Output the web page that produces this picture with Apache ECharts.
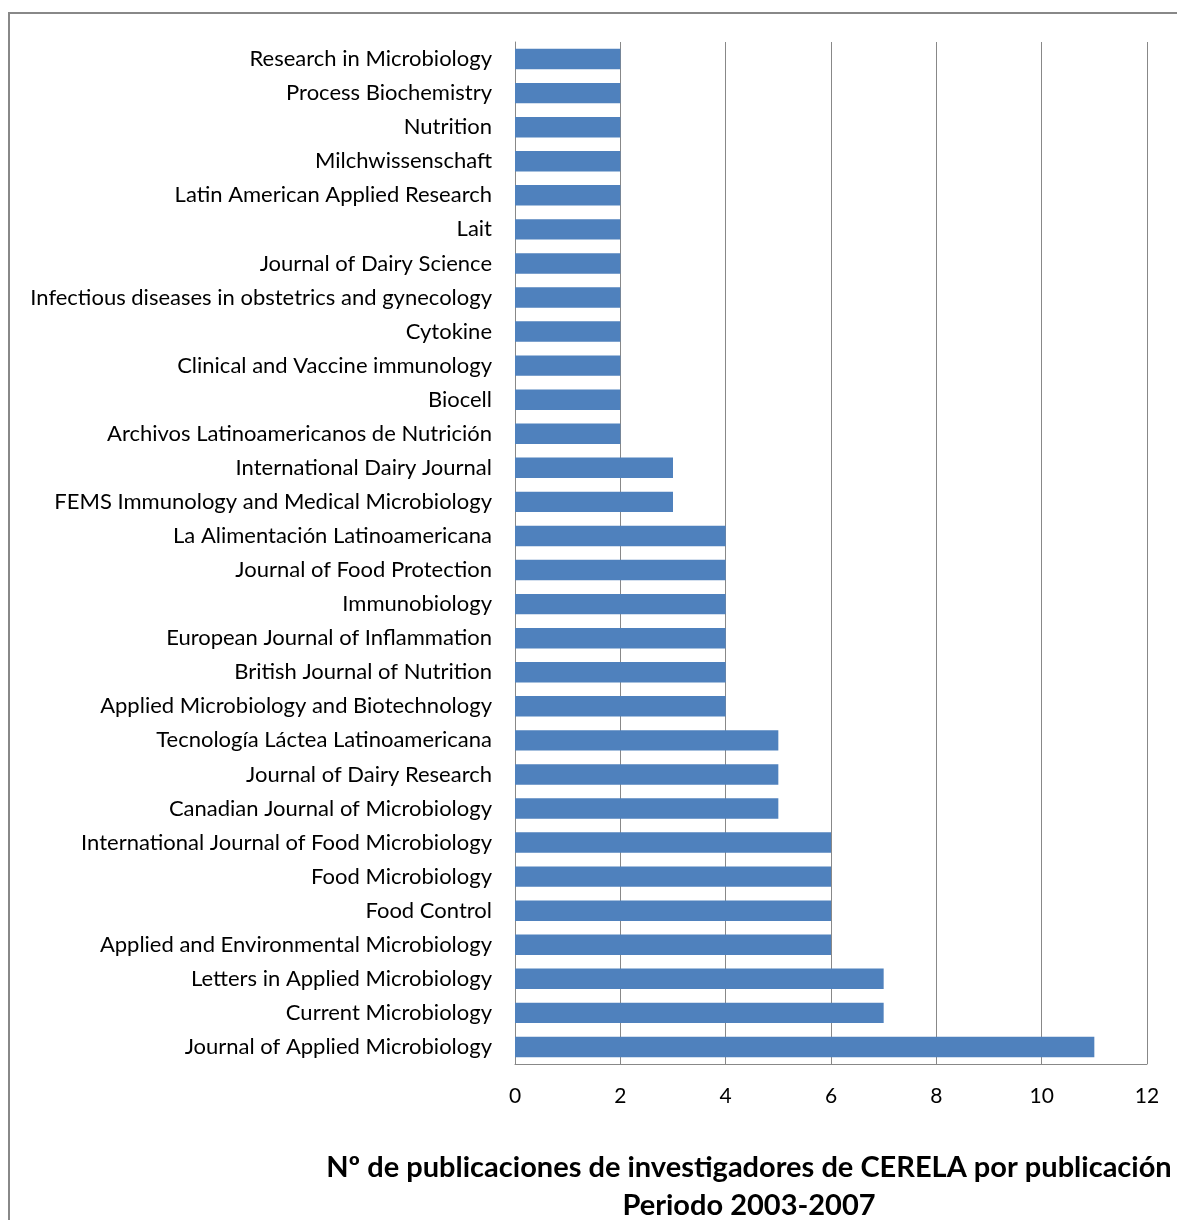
<!DOCTYPE html>
<html><head><meta charset="utf-8">
<script src="https://cdn.jsdelivr.net/npm/echarts@6/dist/echarts.min.js"></script>
<style>html,body{margin:0;padding:0;background:#fff}#c{width:1177px;height:1220px}</style>
</head><body><div id="c"></div>
<script>
const categories = [
  "Research in Microbiology","Process Biochemistry","Nutrition","Milchwissenschaft",
  "Latin American Applied Research","Lait","Journal of Dairy Science",
  "Infectious diseases in obstetrics and gynecology","Cytokine","Clinical and Vaccine immunology",
  "Biocell","Archivos Latinoamericanos de Nutrición","International Dairy Journal",
  "FEMS Immunology and Medical Microbiology","La Alimentación Latinoamericana",
  "Journal of Food Protection","Immunobiology","European Journal of Inflammation",
  "British Journal of Nutrition","Applied Microbiology and Biotechnology",
  "Tecnología Láctea Latinoamericana","Journal of Dairy Research","Canadian Journal of Microbiology",
  "International Journal of Food Microbiology","Food Microbiology","Food Control",
  "Applied and Environmental Microbiology","Letters in Applied Microbiology",
  "Current Microbiology","Journal of Applied Microbiology"
];
const values = [2,2,2,2,2,2,2,2,2,2,2,2,3,3,4,4,4,4,4,4,5,5,5,6,6,6,6,7,7,11];
const titleLines = ["Nº de publicaciones de investigadores de CERELA por publicación","Periodo 2003-2007"];

const chart = echarts.init(document.getElementById('c'), null, {renderer:'canvas'});
chart.setOption({
  animation:false,
  backgroundColor:'#fff',
  graphic:[
    {type:'rect', shape:{x:9,y:13,width:1400,height:1400}, style:{fill:'none',stroke:'#888',lineWidth:2}, silent:true},
    {type:'text', x:749, y:1168, style:{text:titleLines[0], font:'bold 29px Lato', fill:'#000', textAlign:'center', textVerticalAlign:'middle'}},
    {type:'text', x:749, y:1206, style:{text:titleLines[1], font:'bold 29px Lato', fill:'#000', textAlign:'center', textVerticalAlign:'middle'}}
  ],
  grid:{left:515, right:30, top:42, bottom:156, containLabel:false},
  xAxis:{
    type:'value', min:0, max:12, interval:2,
    axisLine:{show:true, lineStyle:{color:'#888'}},
    axisTick:{show:false},
    splitLine:{show:true, lineStyle:{color:'#888', width:1}},
    axisLabel:{color:'#000', fontFamily:'Lato', fontSize:21, margin:22}
  },
  yAxis:{
    type:'category', data:categories, inverse:true,
    axisLine:{show:true, lineStyle:{color:'#888'}},
    axisTick:{show:false},
    axisLabel:{color:'#000', fontFamily:'Lato', fontSize:22, margin:23, interval:0}
  },
  series:[{
    type:'bar', data:values, barCategoryGap:'40%',
    itemStyle:{color:'#4F81BD'}
  }]
});
</script></body></html>
